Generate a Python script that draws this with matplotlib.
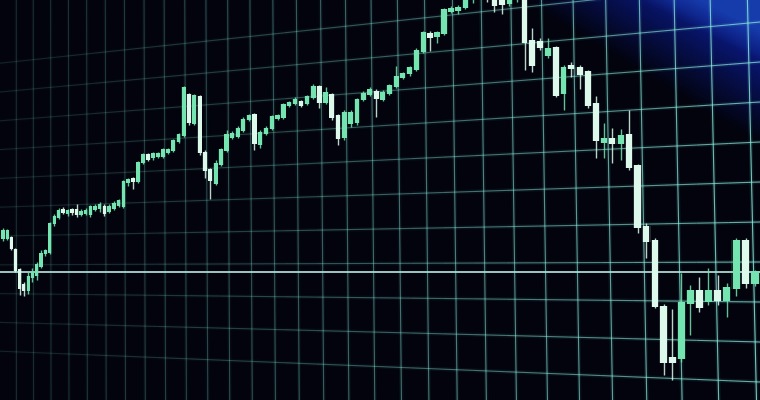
import numpy as np
import matplotlib
matplotlib.use("Agg")
import matplotlib.pyplot as plt
from matplotlib.collections import LineCollection
from matplotlib.transforms import blended_transform_factory

# candle values (price units, bottom of screen = 0)
opens = [162, 162, 162, 150, 130, 115, 110, 123, 125, 134,
         147, 148, 177, 183, 190, 187, 190, 190, 186, 187,
         186, 191, 192, 193, 189, 192, 195, 194, 218, 221,
         219, 238, 245, 243, 244, 244, 248, 250, 259, 265,
         305, 277, 303, 247, 230, 217, 236, 250, 263, 264,
         270, 281, 285, 256, 267, 272, 282, 283, 295, 297,
         298, 297, 303, 313, 298, 305, 284, 263, 277, 278,
         301, 306, 308, 301, 307, 314, 323, 327, 331, 349,
         366, 364, 367, 389, 390, 393, 402, 410, 414, 404,
         400, 397, 401, 402, 359, 358, 345, 352, 307, 334,
         332, 328, 296, 258, 261, 257, 265, 234, 173, 159,
         93, 42, 42, 97, 109, 99, 109, 100, 112, 159,
         117]
closes = [169, 169, 152, 130, 112, 110, 123, 127, 135, 146,
          149, 176, 183, 189, 188, 189, 188, 186, 188, 189,
          193, 193, 195, 187, 193, 196, 199, 218, 220, 219,
          237, 245, 241, 246, 246, 250, 250, 259, 265, 312,
          278, 304, 248, 230, 220, 236, 250, 265, 266, 271,
          280, 284, 257, 267, 271, 283, 284, 295, 297, 300,
          295, 303, 313, 298, 307, 283, 262, 287, 287, 300,
          306, 310, 302, 307, 314, 323, 326, 332, 349, 367,
          363, 367, 390, 391, 392, 400, 410, 418, 404, 395,
          396, 400, 406, 358, 335, 353, 351, 305, 332, 332,
          326, 295, 260, 261, 257, 264, 233, 173, 159, 94,
          38, 38, 97, 109, 93, 109, 100, 112, 159, 117,
          128]
highs = [172, 171, 164, 152, 132, 118, 128, 132, 138, 150,
         151, 178, 186, 192, 193, 191, 192, 196, 191, 192,
         195, 196, 198, 196, 196, 199, 201, 220, 222, 223,
         239, 247, 247, 248, 248, 252, 252, 261, 267, 314,
         307, 306, 305, 250, 232, 240, 252, 270, 269, 274,
         283, 286, 287, 270, 274, 285, 286, 297, 299, 303,
         300, 305, 316, 315, 313, 307, 286, 290, 290, 302,
         309, 313, 311, 310, 316, 334, 328, 334, 352, 369,
         369, 369, 392, 394, 395, 403, 414, 422, 418, 408,
         403, 402, 409, 405, 372, 362, 362, 354, 335, 338,
         335, 330, 304, 277, 272, 271, 290, 236, 177, 162,
         96, 91, 127, 115, 123, 132, 125, 117, 162, 162,
         130]
lows = [159, 160, 150, 128, 105, 104, 106, 118, 120, 132,
        144, 146, 174, 181, 186, 184, 185, 183, 184, 185,
        183, 189, 188, 184, 187, 190, 193, 192, 214, 211,
        217, 236, 239, 240, 242, 242, 246, 248, 257, 263,
        275, 275, 245, 222, 201, 215, 234, 248, 261, 262,
        268, 279, 250, 252, 265, 270, 280, 281, 293, 295,
        293, 295, 301, 292, 296, 280, 255, 260, 273, 275,
        299, 304, 283, 299, 305, 312, 321, 324, 329, 347,
        349, 357, 365, 387, 386, 391, 397, 405, 398, 388,
        386, 394, 398, 330, 328, 350, 342, 303, 290, 323,
        311, 292, 242, 242, 237, 240, 230, 167, 142, 92,
        25, 20, 38, 65, 88, 95, 95, 83, 104, 112,
        114]

grid_levels = [18, 58, 98, 138, 178, 218, 258, 298, 338, 378, 418]
baseline = 128

# the screen is photographed at an angle, so later candles look wider
k = 0.343
n = len(opens) - 1


def forward(i):
    i = np.asarray(i, dtype=float)
    return i / (1 - k * i / n)


def inverse(f):
    f = np.asarray(f, dtype=float)
    return f / (1 + k * f / n)


fig = plt.figure(figsize=(7.6, 4), dpi=100)
fig.patch.set_facecolor("#02030c")

# background: near black with a blue glare in the top right corner
bg_ax = fig.add_axes([0, 0, 1, 1])
h, w = 200, 380
yy, xx = np.mgrid[0:h, 0:w]
xp = xx * 760 / w
yp = yy * 400 / h
glare = np.clip(((xp - 520) * 0.6 - yp) / 90, 0, 1)
band = np.clip(((xp - 640) * 0.5 - yp) / 30, 0, 1)
bg = np.zeros((h, w, 3))
bg[..., 0] = 0.008 + 0.03 * glare + 0.05 * band
bg[..., 1] = 0.012 + 0.08 * glare + 0.14 * band
bg[..., 2] = 0.05 + 0.42 * glare + 0.2 * band
bg_ax.imshow(bg, aspect="auto", extent=(0, 1, 1, 0))
bg_ax.set_xlim(0, 1)
bg_ax.set_ylim(1, 0)
bg_ax.axis("off")

ax = fig.add_axes([0, 0, 1, 1])
ax.patch.set_alpha(0)
ax.set_xscale("function", functions=(forward, inverse))
ax.set_xlim(-0.73, n + 0.52)
ax.set_ylim(0, 400)
ax.axis("off")

# horizontal grid, converging towards the left and fading out there
trans = blended_transform_factory(ax.transAxes, ax.transData)
steps = np.linspace(0, 1, 25)
for lvl in grid_levels:
    ys = baseline + (lvl - baseline) * (0.72 + 0.28 * steps)
    segs = [[(steps[j], ys[j]), (steps[j + 1], ys[j + 1])] for j in range(len(steps) - 1)]
    fade = 0.12 + 0.6 * steps[:-1] ** 1.3
    glow = LineCollection(segs, colors="#7fe9dd", linewidths=3, alpha=None, transform=trans, zorder=1)
    glow.set_alpha(fade * 0.12)
    ax.add_collection(glow)
    line = LineCollection(segs, colors="#8ff3e6", linewidths=0.8, transform=trans, zorder=1)
    line.set_alpha(fade)
    ax.add_collection(line)
ax.plot([0, 1], [baseline, baseline], transform=trans, color="#c8fbf2", lw=1.3, alpha=0.85, zorder=1)

# vertical grid every 4 candles, leaning a little
for v in np.arange(3.2, n + 1, 4):
    a = 0.15 + 0.65 * (forward(v) / forward(n)) ** 1.3
    ax.plot([v, v + 0.008 * v], [400, 0], color="#7fe9dd", lw=3, alpha=0.12 * a, zorder=1)
    ax.plot([v, v + 0.008 * v], [400, 0], color="#8ff3e6", lw=0.8, alpha=a, zorder=1)

idx = np.arange(len(opens))
o = np.array(opens)
c = np.array(closes)
up = c >= o
colors = np.where(up, "#74e4b0", "#dcf9ec")

ax.vlines(idx, lows, highs, colors=colors, lw=1.0, alpha=0.85, zorder=2)
ax.bar(idx, np.abs(c - o) + 1.5, bottom=np.minimum(o, c) - 0.75, width=1.0,
       color=colors, alpha=0.15, zorder=2)
ax.bar(idx, np.abs(c - o) + 1.5, bottom=np.minimum(o, c) - 0.75, width=0.75,
       color=colors, zorder=3)

fig.savefig("out.png", dpi=100, facecolor=fig.get_facecolor())
